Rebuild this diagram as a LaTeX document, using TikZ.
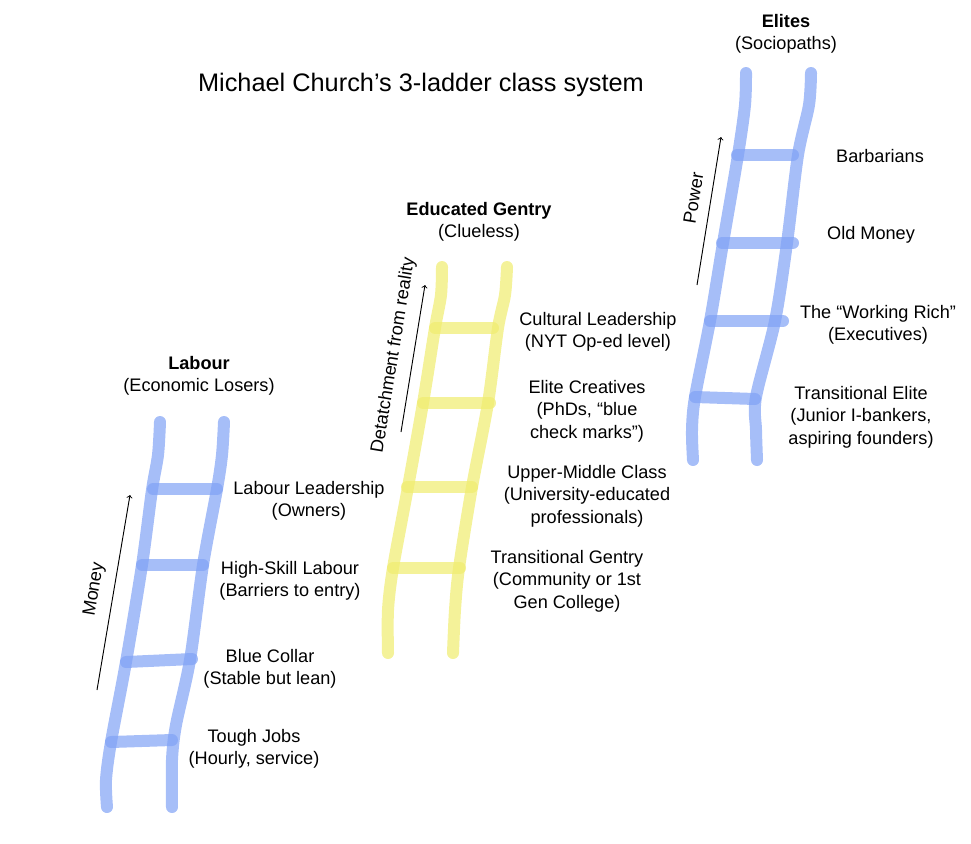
\documentclass[tikz,border=0pt]{standalone}
\usepackage{fontspec}
\setmainfont{Liberation Sans}
\definecolor{rungblue}{RGB}{128,162,245}
\definecolor{rungyellow}{RGB}{240,236,110}
\tikzset{
  bluerail/.style={draw=rungblue, opacity=0.7, line width=9pt, line cap=round, line join=round},
  yellowrail/.style={draw=rungyellow, opacity=0.7, line width=9pt, line cap=round, line join=round},
  lbl/.style={align=center, inner sep=0pt, font=\fontsize{13.6}{16.8}\selectfont},
  head/.style={lbl},
  axis/.style={->, line width=0.7pt}
}
\begin{document}
\begin{tikzpicture}[x=0.75pt, y=-0.75pt]
        \useasboundingbox (0,0) rectangle (971,843);

        \node[lbl, font=\fontsize{19}{22}\selectfont] (title) at (421,85) {Michael Church’s 3-ladder class system};

        % Labour ladder
        \draw[bluerail] plot[smooth] coordinates {(160,422) (158,455) (152,490) (142,565) (126,662) (111,742) (106,780) (107,807)};
        \draw[bluerail] plot[smooth] coordinates {(224,422) (222,455) (217,489) (203,565) (190,660) (176,725) (172,760) (172,807)};
        \draw[bluerail] (153,489) -- (217,489);
        \draw[bluerail] (142,565) -- (203,565);
        \draw[bluerail] (126,662) -- (192,659);
        \draw[bluerail] (111,742) -- (172,740);

        \node[head] (labour) at (199,376) {\textbf{Labour}\\(Economic Losers)};
        \node[lbl] (lab-lead) at (309,501) {Labour Leadership\\(Owners)};
        \node[lbl] (lab-skill) at (290,581) {High-Skill Labour\\(Barriers to entry)};
        \node[lbl] (lab-blue) at (270,669) {Blue Collar\\(Stable but lean)};
        \node[lbl] (lab-tough) at (254,749) {Tough Jobs\\(Hourly, service)};

        \coordinate (money-s) at (97,690);
        \coordinate (money-e) at (130,495);
        \draw[axis] (money-s) -- node[lbl, sloped, above=8pt] (money) {Money} (money-e);

        % Educated Gentry ladder
        \draw[yellowrail] plot[smooth] coordinates {(442,267) (441,295) (435,328) (423,403) (408,487) (393,568) (388,610) (388,653)};
        \draw[yellowrail] plot[smooth] coordinates {(507,267) (505,295) (498,328) (488,403) (472,487) (459,568) (455,610) (453,653)};
        \draw[yellowrail] (435,328) -- (493,328);
        \draw[yellowrail] (423,403) -- (490,403);
        \draw[yellowrail] (407,487) -- (472,487);
        \draw[yellowrail] (393,568) -- (460,568);

        \node[head] (gentry) at (479,222) {\textbf{Educated Gentry}\\(Clueless)};
        \node[lbl] (gen-cult) at (598,332) {Cultural Leadership\\(NYT Op-ed level)};
        \node[lbl] (gen-crea) at (587,411) {Elite Creatives\\(PhDs, “blue\\check marks”)};
        \node[lbl] (gen-upper) at (587,496) {Upper-Middle Class\\(University-educated\\professionals)};
        \node[lbl] (gen-trans) at (567,581) {Transitional Gentry\\(Community or 1st\\Gen College)};

        \coordinate (detach-s) at (401,432);
        \coordinate (detach-e) at (425,285);
        \draw[axis] (detach-s) -- node[lbl, sloped, above=8pt] (detach) {Detatchment from reality} (detach-e);

        % Elites ladder
        \draw[bluerail] plot[smooth] coordinates {(746,73) (745,105) (738,155) (723,243) (710,321) (695,397) (692,430) (693,460)};
        \draw[bluerail] plot[smooth] coordinates {(811,73) (809,105) (798,155) (787,243) (775,321) (756,397) (756,430) (757,460)};
        \draw[bluerail] (737,155) -- (793,155);
        \draw[bluerail] (722,243) -- (793,243);
        \draw[bluerail] (710,321) -- (783,321);
        \draw[bluerail] (695,397) -- (755,399);

        \node[head] (elites) at (786,34) {\textbf{Elites}\\(Sociopaths)};
        \node[lbl] (eli-barb) at (880,156) {Barbarians};
        \node[lbl] (eli-old) at (871,235) {Old Money};
        \node[lbl] (eli-work) at (878,325) {The “Working Rich”\\(Executives)};
        \node[lbl] (eli-trans) at (861,417) {Transitional Elite\\(Junior I-bankers,\\aspiring founders)};

        \coordinate (power-s) at (697,285);
        \coordinate (power-e) at (721,137);
        \draw[axis] (power-s) -- node[lbl, sloped, above=8pt, pos=0.57] (power) {Power} (power-e);
      \end{tikzpicture}
\end{document}
